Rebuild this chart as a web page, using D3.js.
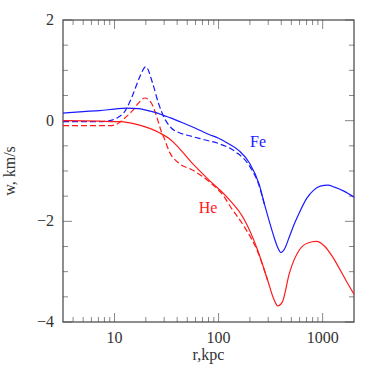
<!DOCTYPE html>
<html>
<head>
<meta charset="utf-8">
<script src="https://cdn.jsdelivr.net/npm/d3@7"></script>
<style>
  body { margin: 0; background: #fff; }
  text { font-family: "Liberation Serif", "DejaVu Serif", serif; }
</style>
</head>
<body>
<div id="chart"></div>
<script>
// radius (kpc) and velocity w (km/s)
const feSolidR = [3.2, 5, 7.2, 10, 13, 17, 20, 25, 30, 35, 40, 50, 60, 80, 100, 120, 158, 198, 246, 275, 307, 343, 370, 398, 430, 480, 540, 600, 700, 820, 950, 1120, 1300, 1600, 2000];
const feSolidW = [0.15, 0.18, 0.2, 0.23, 0.25, 0.24, 0.21, 0.16, 0.1, 0.05, 0.0, -0.08, -0.15, -0.27, -0.35, -0.44, -0.6, -0.84, -1.27, -1.65, -2.0, -2.33, -2.52, -2.62, -2.55, -2.3, -2.03, -1.82, -1.55, -1.38, -1.3, -1.28, -1.32, -1.4, -1.52];

const feDashR = [3.2, 7.2, 9, 10.7, 12.7, 14.9, 17.4, 20, 23.2, 26.4, 30.2, 35.3, 42, 52.5, 73, 102, 148, 198, 246, 275];
const feDashW = [-0.02, -0.02, 0.0, 0.06, 0.2, 0.5, 0.86, 1.07, 0.75, 0.35, 0.05, -0.15, -0.24, -0.3, -0.38, -0.46, -0.63, -0.9, -1.3, -1.66];

const heSolidR = [3.2, 7.2, 10, 11.2, 17.4, 27, 33.7, 39, 56, 81, 118, 177, 237, 296, 340, 370, 410, 479, 596, 720, 870, 1050, 1240, 1670, 2000];
const heSolidW = [0.0, -0.01, -0.02, -0.02, -0.09, -0.24, -0.36, -0.48, -0.85, -1.18, -1.5, -1.97, -2.57, -3.17, -3.55, -3.68, -3.6, -3.03, -2.57, -2.43, -2.4, -2.5, -2.7, -3.17, -3.45];

const heDashR = [3.2, 9, 10.7, 12.5, 14.9, 17, 19.6, 22.6, 25.7, 28, 30, 33.7, 42, 56, 81, 112, 130, 177, 237, 296];
const heDashW = [-0.1, -0.1, -0.06, 0.05, 0.2, 0.35, 0.45, 0.35, 0.05, -0.2, -0.35, -0.62, -0.85, -0.98, -1.21, -1.5, -1.71, -2.11, -2.6, -3.17];

const yTicks = [2, 0, -2, -4];
const xTicks = [10, 100, 1000];

const W = 374, H = 374;
const m = { left: 63, right: 20, top: 20, bottom: 52 };

const svg = d3.select("#chart").append("svg")
  .attr("width", W)
  .attr("height", H);

const x = d3.scaleLog().domain([3.2, 2000]).range([m.left, W - m.right]);
const y = d3.scaleLinear().domain([-4, 2]).range([H - m.bottom, m.top]);

const axisColor = "#444";
const tickColor = "#888";

// minor / major ticks
const xMinor = [];
[1, 10, 100, 1000].forEach(d => {
  for (let k = 2; k <= 9; k++) {
    const v = d * k;
    if (v > 3.2 && v < 2000) xMinor.push(v);
  }
});
const yMinor = d3.range(-3.5, 2, 0.5).filter(v => !yTicks.includes(v));

const ticks = svg.append("g").attr("stroke", tickColor).attr("stroke-width", 1);
const x0 = m.left, x1 = W - m.right, y0 = H - m.bottom, y1 = m.top;

xMinor.forEach(v => {
  ticks.append("line").attr("x1", x(v)).attr("x2", x(v)).attr("y1", y0).attr("y2", y0 - 5);
  ticks.append("line").attr("x1", x(v)).attr("x2", x(v)).attr("y1", y1).attr("y2", y1 + 5);
});
xTicks.forEach(v => {
  ticks.append("line").attr("x1", x(v)).attr("x2", x(v)).attr("y1", y0).attr("y2", y0 - 9);
  ticks.append("line").attr("x1", x(v)).attr("x2", x(v)).attr("y1", y1).attr("y2", y1 + 9);
});
yMinor.forEach(v => {
  ticks.append("line").attr("x1", x0).attr("x2", x0 + 5).attr("y1", y(v)).attr("y2", y(v));
  ticks.append("line").attr("x1", x1).attr("x2", x1 - 5).attr("y1", y(v)).attr("y2", y(v));
});
yTicks.forEach(v => {
  ticks.append("line").attr("x1", x0).attr("x2", x0 + 9).attr("y1", y(v)).attr("y2", y(v));
  ticks.append("line").attr("x1", x1).attr("x2", x1 - 9).attr("y1", y(v)).attr("y2", y(v));
});

// frame
svg.append("rect")
  .attr("x", x0).attr("y", y1)
  .attr("width", x1 - x0).attr("height", y0 - y1)
  .attr("fill", "none")
  .attr("stroke", axisColor)
  .attr("stroke-width", 1.2);

// tick labels
svg.selectAll(".xlab")
  .data(xTicks)
  .enter().append("text")
  .attr("x", d => x(d))
  .attr("y", y0 + 21)
  .attr("text-anchor", "middle")
  .attr("font-size", 16)
  .attr("fill", "#333")
  .text(d => d);

svg.selectAll(".ylab")
  .data(yTicks)
  .enter().append("text")
  .attr("x", x0 - 9)
  .attr("y", d => y(d) + 5)
  .attr("text-anchor", "end")
  .attr("font-size", 16)
  .attr("fill", "#333")
  .text(d => d < 0 ? "\u2212" + Math.abs(d) : d);

// axis titles
svg.append("text")
  .attr("x", (x0 + x1) / 2)
  .attr("y", 360)
  .attr("text-anchor", "middle")
  .attr("font-size", 16)
  .attr("fill", "#333")
  .text("r,kpc");

svg.append("text")
  .attr("transform", `translate(15, ${(y0 + y1) / 2}) rotate(-90)`)
  .attr("text-anchor", "middle")
  .attr("font-size", 16)
  .attr("fill", "#333")
  .text("w,  km/s");

// curves
const line = d3.line()
  .x(d => x(d[0]))
  .y(d => y(d[1]))
  .curve(d3.curveMonotoneX);

const plot = svg.append("g");

function drawSeries(rs, ws, color, dash) {
  plot.append("path")
    .datum(d3.zip(rs, ws))
    .attr("d", line)
    .attr("fill", "none")
    .attr("stroke", color)
    .attr("stroke-width", 1.2)
    .attr("stroke-dasharray", dash);
}

drawSeries(feDashR, feDashW, "#1a1aff", "6,3");
drawSeries(heDashR, heDashW, "#ff1a1a", "6,3");
drawSeries(feSolidR, feSolidW, "#1a1aff", null);
drawSeries(heSolidR, heSolidW, "#ff1a1a", null);

// labels
svg.append("text")
  .attr("x", 258).attr("y", 147)
  .attr("text-anchor", "middle")
  .attr("font-size", 16)
  .attr("fill", "#1a1aff")
  .text("Fe");

svg.append("text")
  .attr("x", 208).attr("y", 213)
  .attr("text-anchor", "middle")
  .attr("font-size", 16)
  .attr("fill", "#ff1a1a")
  .text("He");
</script>
</body>
</html>
